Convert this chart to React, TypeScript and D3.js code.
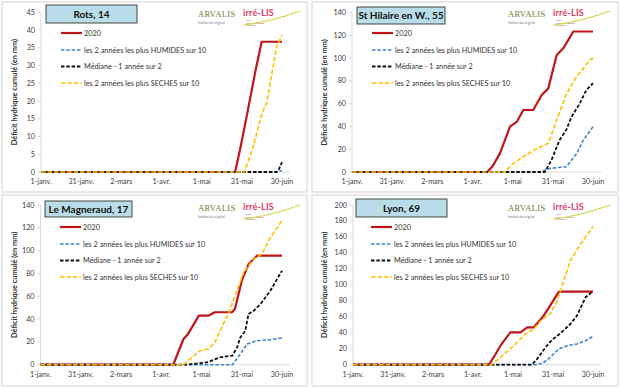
import React from "react";
import * as d3 from "d3";

const W = 620;
const H = 388;
const FONT = "Lato, 'Liberation Sans', sans-serif";

// x axis: days since 1 January (non-leap year)
const xTickDays = [0, 30, 60, 90, 120, 150, 180];
const xTickLabels = ["1-janv.", "31-janv.", "2-mars", "1-avr.", "1-mai", "31-mai", "30-juin"];

const legendLabels = [
  "2020",
  "les 2 années les plus HUMIDES sur 10",
  "Médiane - 1 année sur 2",
  "les 2 années les plus SECHES sur 10",
];

type Pt = [number, number];

// Rots, 14
const rots2020: Pt[] = [[0, 0], [145, 0], [148.6, 6.2], [153.6, 15.6], [159.8, 27.8], [164.8, 36.7], [180, 36.7]];
const rotsHumides: Pt[] = [[0, 0], [176, 0], [180, 0.4]];
const rotsMediane: Pt[] = [[0, 0], [176, 0], [178, 1], [180, 2.8]];
const rotsSeches: Pt[] = [[0, 0], [152, 0], [158.5, 7.1], [165, 16.5], [168.5, 19.4], [176, 35.3], [180, 38.6]];

// St Hilaire en W., 55
const hilaire2020: Pt[] = [[0, 0], [101, 0], [105, 5], [110.5, 16.4], [118, 39.8], [123, 44], [128, 54.5], [135.4, 54.5],
  [141.7, 67.7], [146.6, 73.5], [152.9, 102.8], [157.8, 108.7], [165.3, 123.5], [180, 123.5]];
const hilaireHumides: Pt[] = [[0, 0], [140, 0], [148, 3.2], [160, 4.6], [168, 16.4], [172.7, 28], [180, 39.8]];
const hilaireMediane: Pt[] = [[0, 0], [144, 0], [149, 10.5], [155, 28], [160, 37], [164, 48.6], [170, 60], [175, 72], [180, 78]];
const hilaireSeches: Pt[] = [[0, 0], [114, 0], [120.5, 7.6], [128, 13.5], [138, 20.8], [146.6, 25.2], [152.9, 45.7],
  [160.3, 69], [167.8, 83.7], [177.7, 98.4], [180, 100]];

// Le Magneraud, 17
const magneraud2020: Pt[] = [[0, 0], [99, 0], [103, 12], [106.6, 22.5], [110, 27], [118, 43], [125, 43], [130, 46],
  [142.8, 46], [145, 49], [150, 73.7], [155, 88], [161.5, 95.6], [180, 95.6]];
const magneraudHumides: Pt[] = [[0, 0], [143, 0], [149, 9.4], [154, 18.2], [161.5, 21], [171.4, 22], [180, 23.4]];
const magneraudMediane: Pt[] = [[0, 0], [108, 0], [124, 2], [134, 6.5], [143, 7.9], [146.5, 15.2], [149, 24], [152.7, 29.8],
  [155, 44.4], [159, 47.4], [164, 53.2], [171.4, 65], [180, 82.4]];
const magneraudSeches: Pt[] = [[0, 0], [106.6, 0], [113, 6.5], [119, 12.3], [125, 13.8], [130, 19.6], [135, 32.8],
  [140, 44.4], [145, 60.5], [151.5, 81], [159, 92.7], [165, 97], [171.4, 111.7], [180, 126.3]];

// Lyon, 69
const lyon2020: Pt[] = [[0, 0], [102, 0], [107, 13.4], [110.6, 23.8], [118, 40.6], [125.6, 40.6], [130.7, 46.8],
  [135.6, 46.8], [142, 59], [147, 71.9], [154.4, 91.5], [180, 91.5]];
const lyonHumides: Pt[] = [[0, 0], [136, 0], [142, 1.5], [148, 9.3], [154.4, 19.7], [160.7, 23.8], [168, 26], [174.4, 30], [180, 35.5]];
const lyonMediane: Pt[] = [[0, 0], [134, 0], [138, 7], [144.4, 21.8], [149.4, 31.3], [155.6, 39.3], [163, 51], [168, 61.4],
  [174.4, 84.4], [180, 92]];
const lyonSeches: Pt[] = [[0, 0], [104, 0], [112, 11.3], [120.6, 23.8], [129.4, 38.4], [135.6, 44.7], [142, 57.2], [148, 63.5],
  [153, 80], [158, 105], [163, 130], [170.6, 151], [180, 173]];

const seriesStyles = [
  { color: "#c0151b", width: 2.2, dash: "" },
  { color: "#3f82c8", width: 1.6, dash: "3.5,1.8" },
  { color: "#111111", width: 1.8, dash: "3.5,1.8" },
  { color: "#ffc000", width: 1.6, dash: "4.5,2" },
];

const panels = [
  { title: "Rots, 14", ox: 0, oy: 0, yMax: 45, yStep: 5, x0: 41, x1: 282, y0: 172, yTop: 12.3,
    box: [46, 5, 91, 18], frame: [2, 2, 305, 190], series: [rots2020, rotsHumides, rotsMediane, rotsSeches] },
  { title: "St Hilaire en W., 55", ox: 310, oy: 0, yMax: 140, yStep: 20, x0: 42, x1: 283, y0: 172, yTop: 12.7,
    box: [47, 7, 88, 17], frame: [2, 2, 306, 190], series: [hilaire2020, hilaireHumides, hilaireMediane, hilaireSeches] },
  { title: "Le Magneraud, 17", ox: 0, oy: 194, yMax: 140, yStep: 20, x0: 40.5, x1: 282, y0: 170.7, yTop: 11,
    box: [45, 7, 87, 16], frame: [2, 1, 305, 191], series: [magneraud2020, magneraudHumides, magneraudMediane, magneraudSeches] },
  { title: "Lyon, 69", ox: 310, oy: 194, yMax: 200, yStep: 20, x0: 43, x1: 283, y0: 170.7, yTop: 11,
    box: [46, 5, 91, 18], frame: [2, 1, 306, 191], series: [lyon2020, lyonHumides, lyonMediane, lyonSeches] },
];

const Logos = () => (
  <g>
    <text x={198} y={17} fontFamily="'Liberation Serif', serif" fontSize={8.6} fill="#6f7a3c" letterSpacing={0.3}>ARVALIS</text>
    <text x={198} y={23.5} fontFamily={FONT} fontSize={3.4} fill="#777">Institut du végétal</text>
    <text x={243} y={16} fontFamily={FONT} fontSize={9} fontWeight={700} fill="#e23a63" letterSpacing={0.2}>irré-LIS</text>
    <text x={246} y={20.5} fontFamily={FONT} fontSize={2.6} fill="#b05070">mon</text>
    <text x={246} y={23.5} fontFamily={FONT} fontSize={2.6} fill="#b05070">outil de pilotage</text>
    <text x={246} y={26.3} fontFamily={FONT} fontSize={2.6} fill="#b05070">irrigation</text>
    <path d="M243,25 Q270,22 300,11" fill="none" stroke="#d2d84a" strokeWidth={1.2} />
  </g>
);

const Panel = ({ p }) => {
  const x = d3.scaleLinear().domain([0, 180]).range([p.x0, p.x1]);
  const y = d3.scaleLinear().domain([0, p.yMax]).range([p.y0, p.yTop]);
  const yTicks = d3.range(0, p.yMax + 0.001, p.yStep);
  const line = d3.line<Pt>().x((d) => x(d[0])).y((d) => y(d[1]));
  const legendX = p.box[0] + 15;
  const legendY = [33, 50, 66.5, 83];
  return (
    <g transform={`translate(${p.ox},${p.oy})`}>
      <rect x={p.frame[0]} y={p.frame[1]} width={p.frame[2]} height={p.frame[3]} fill="#fff" stroke="#d4d4d4" />
      {/* y axis */}
      <line x1={p.x0} x2={p.x0} y1={p.y0} y2={p.yTop} stroke="#d0d0d0" strokeWidth={0.8} />
      {yTicks.map((t) => (
        <g key={t}>
          <line x1={p.x0 - 3} x2={p.x0} y1={y(t)} y2={y(t)} stroke="#c8c8c8" strokeWidth={0.8} />
          <text x={p.x0 - 6} y={y(t) + 2.5} textAnchor="end" fontFamily={FONT} fontSize={7.2} fill="#404040">{t}</text>
        </g>
      ))}
      {/* x axis */}
      <line x1={p.x0} x2={p.x1 + 8} y1={p.y0} y2={p.y0} stroke="#d0d0d0" strokeWidth={0.8} />
      {xTickDays.map((d, i) => (
        <text key={d} x={x(d)} y={p.y0 + 12} textAnchor="middle" fontFamily={FONT} fontSize={7.2} fill="#404040">
          {xTickLabels[i]}
        </text>
      ))}
      <text transform={`translate(${17},${(p.y0 + p.yTop) / 2}) rotate(-90)`} textAnchor="middle"
        fontFamily={FONT} fontSize={7.4} fontWeight={700} fill="#333">
        Déficit hydrique cumulé (en mm)
      </text>
      {/* title box */}
      <rect x={p.box[0]} y={p.box[1]} width={p.box[2]} height={p.box[3]} fill="#b9dde9" stroke="#333" strokeWidth={0.9} />
      <text x={p.box[0] + p.box[2] / 2} y={p.box[1] + p.box[3] / 2 + 3.5} textAnchor="middle"
        fontFamily={FONT} fontSize={10} fontWeight={700} fill="#111">{p.title}</text>
      <Logos />
      {/* series */}
      {p.series.map((s, i) => (
        <path key={i} d={line(s)} fill="none" stroke={seriesStyles[i].color} strokeWidth={seriesStyles[i].width}
          strokeDasharray={seriesStyles[i].dash} strokeLinejoin="round" />
      ))}
      {/* legend */}
      {legendLabels.map((lab, i) => (
        <g key={lab}>
          <line x1={legendX} x2={legendX + 21} y1={legendY[i]} y2={legendY[i]} stroke={seriesStyles[i].color}
            strokeWidth={seriesStyles[i].width} strokeDasharray={seriesStyles[i].dash} />
          <text x={legendX + 23} y={legendY[i] + 2.6} fontFamily={FONT} fontSize={7.3} fill="#333">{lab}</text>
        </g>
      ))}
    </g>
  );
};

export default function App() {
  return (
    <div style={{ position: "fixed", left: 0, top: 0 }}>
      <svg width={W} height={H} style={{ display: "block", background: "#fff" }}>
        {panels.map((p) => (
          <Panel key={p.title} p={p} />
        ))}
      </svg>
    </div>
  );
}
